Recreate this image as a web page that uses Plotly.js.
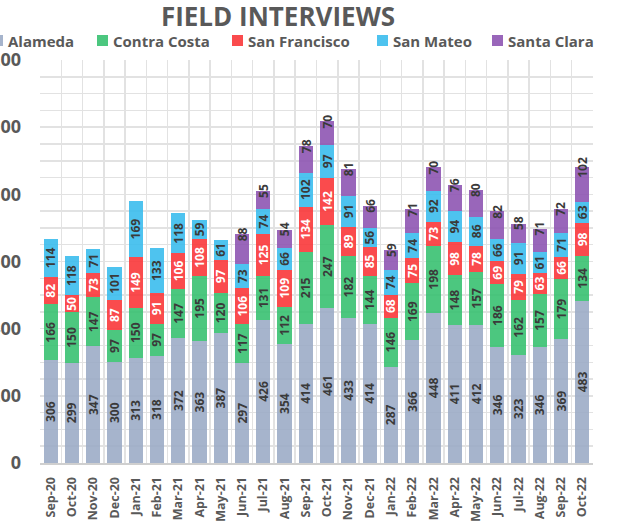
<!DOCTYPE html>
<html><head><meta charset="utf-8">
<script src="https://cdn.plot.ly/plotly-3.0.1.min.js"></script>
<style>html,body{margin:0;padding:0;background:#fff}#chart{width:626px;height:521px}</style>
</head><body><div id="chart"></div>
<script>
const months = ['Sep-20','Oct-20','Nov-20','Dec-20','Jan-21','Feb-21','Mar-21','Apr-21','May-21','Jun-21','Jul-21','Aug-21','Sep-21','Oct-21','Nov-21','Dec-21','Jan-22','Feb-22','Mar-22','Apr-22','May-22','Jun-22','Jul-22','Aug-22','Sep-22','Oct-22'];
const alameda = [306,299,347,300,313,318,372,363,387,297,426,354,414,461,433,414,287,366,448,411,412,346,323,346,369,483];
const contraCosta = [166,150,147,97,150,97,147,195,120,117,131,112,215,247,182,144,146,169,198,148,157,186,162,157,179,134];
const sanFrancisco = [82,50,73,87,149,91,106,108,97,106,125,109,134,142,89,85,68,75,73,98,78,69,79,63,66,98];
const sanMateo = [114,118,71,101,169,133,118,59,61,73,74,66,102,97,91,56,74,74,92,94,86,66,91,61,71,63];
const santaClara = [null,null,null,null,null,null,null,null,null,88,55,54,78,70,81,66,59,71,70,76,80,82,58,71,72,102];
const seriesNames = ['Alameda','Contra Costa','San Francisco','San Mateo','Santa Clara'];
const yTicks = [0,200,400,600,800,1000,1200];

const FONT = '"Open Sans", "DejaVu Sans", sans-serif';
const GRAY = '#595959';
const W = 626, H = 521;
const M = {l:40, r:33, t:60, b:58};
const PW = W - M.l - M.r, PH = H - M.t - M.b;
const px2x = px => (px - M.l) / PW;
const px2y = py => (H - M.b - py) / PH;

const seriesValues = [alameda, contraCosta, sanFrancisco, sanMateo, santaClara];
const colors = ['rgb(156,172,198)','rgb(56,193,113)','rgb(250,55,58)','rgb(59,188,237)','rgb(142,85,179)'];
const textColors = ['#3a3a3a','#3a3a3a','#ffffff','#3a3a3a','#3a3a3a'];
const legendSquareLeft = [-8, 97, 232, 377, 492];

const traces = seriesNames.map((name, i) => ({
  type:'bar', name:name, x:months, y:seriesValues[i],
  marker:{color:colors[i], opacity:0.9, line:{width:0}},
  text: seriesValues[i].map(v => v == null ? '' : String(v)),
  texttemplate:'%{text}',
  textposition: i === 4 ? 'none' : 'inside',
  insidetextanchor:'middle',
  textangle:-90,
  constraintext:'none',
  textfont:{family:FONT, size:12, color:textColors[i], weight:'bold'},
  showlegend:false,
  hoverinfo:'skip'
}));

const annotations = months.map((m, k) => {
  if (santaClara[k] == null) return null;
  const total = alameda[k] + contraCosta[k] + sanFrancisco[k] + sanMateo[k] + santaClara[k];
  return {x:m, y:total, xref:'x', yref:'y', text:String(santaClara[k]), showarrow:false,
    textangle:-90, xanchor:'center', yanchor:'middle',
    font:{family:FONT, size:12, color:'#3a3a3a', weight:'bold'}};
}).filter(a => a);

// manual legend
const shapes = [];
seriesNames.forEach((name, i) => {
  const L = legendSquareLeft[i];
  shapes.push({type:'rect', xref:'paper', yref:'paper', x0:px2x(L), x1:px2x(L+11),
    y0:px2y(46), y1:px2y(35), fillcolor:colors[i], line:{width:0}, opacity:0.9});
  annotations.push({xref:'paper', yref:'paper', x:px2x(L+14), y:px2y(40.5), xanchor:'left', yanchor:'middle',
    text:name, showarrow:false, font:{family:FONT, size:15, color:GRAY, weight:'bold'}});
});

const layout = {
  width:W, height:H,
  margin:{l:M.l, r:M.r, t:M.t, b:M.b, pad:0},
  paper_bgcolor:'#ffffff', plot_bgcolor:'#ffffff',
  barmode:'stack', bargap:0.33,
  title:{text:'FIELD INTERVIEWS', x:278/W, xanchor:'center', y:1-17/H, yanchor:'middle',
    font:{family:FONT, size:26, color:GRAY, weight:'bold'}},
  showlegend:false,
  xaxis:{type:'category', range:[-0.5, months.length-0.5], tickson:'boundaries',
    showgrid:true, gridcolor:'#e2e2e2', gridwidth:1.5,
    showline:true, linecolor:'#cfcfcf', linewidth:2, ticks:'', tickangle:-90,
    ticklabelstandoff:7,
    tickfont:{family:FONT, size:12.5, color:GRAY, weight:'bold'}, fixedrange:true},
  yaxis:{range:[0,1200], tickmode:'array', tickvals:yTicks, ticktext:yTicks.map(String),
    showgrid:true, gridcolor:'#e2e2e2', gridwidth:1.5,
    minor:{dtick:50, showgrid:true, gridcolor:'#e2e2e2', gridwidth:1.5},
    zeroline:false, showline:false, ticks:'', ticklabelstandoff:18,
    tickfont:{family:FONT, size:18, color:GRAY, weight:'bold'}, fixedrange:true},
  shapes:shapes,
  annotations:annotations
};

Plotly.newPlot('chart', traces, layout, {displayModeBar:false, staticPlot:true});
</script>
</body></html>
